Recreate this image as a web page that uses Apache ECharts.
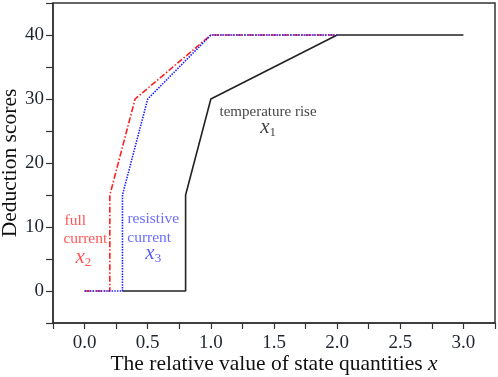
<!DOCTYPE html>
<html><head><meta charset="utf-8">
<script src="https://cdn.jsdelivr.net/npm/echarts@6/dist/echarts.min.js"></script>
<style>html,body{margin:0;padding:0;background:#fff}#c{width:498px;height:377px}</style>
</head><body><div id="c"></div>
<script>
// Data
var tempRise = [[0.3,0],[0.8,0],[0.8,15],[1.0,30],[2.0,40],[3.0,40]];      // x1 temperature rise
var fullCurrent = [[0,0],[0.2,0],[0.2,15],[0.4,30],[1.0,40],[2.0,40]];     // x2 full current
var resistiveCurrent = [[0,0],[0.3,0],[0.3,15],[0.5,30],[1.0,40],[2.0,40]];// x3 resistive current
var xTickLabels = ['0.0','0.5','1.0','1.5','2.0','2.5','3.0'];
var yTickLabels = ['0','10','20','30','40'];

var FONT = 'Liberation Serif';
var chart = echarts.init(document.getElementById('c'));
function fmtX(v){ var s=(Math.round(v*100)/100).toFixed(1); return xTickLabels.indexOf(s)>=0 && Math.abs(v*2-Math.round(v*2))<1e-6 ? s : ''; }
function fmtY(v){ var s=String(Math.round(v)); return yTickLabels.indexOf(s)>=0 && Math.round(v)%10===0 ? s : ''; }

var subRich = {
  it:{fontFamily:FONT,fontStyle:'italic',fontSize:21},
  sub:{fontFamily:FONT,fontSize:13,padding:[10,0,0,0]}
};
chart.setOption({
  animation:false,
  grid:{left:53,right:3,top:3,bottom:54,show:true,borderColor:'#333',borderWidth:1.5,outerBoundsMode:'none',containLabel:false},
  xAxis:{type:'value',min:-0.25,max:3.25,interval:0.25,
    axisLine:{show:true,onZero:false,lineStyle:{color:'#333',width:1.5}},
    axisTick:{show:true,inside:false,length:6,lineStyle:{color:'#333',width:1.2}},
    splitLine:{show:false},
    axisLabel:{formatter:fmtX,fontFamily:FONT,fontSize:19,color:'#1f2530',margin:11,showMinLabel:true,showMaxLabel:true},
    name:'The relative value of state quantities {it|x}',nameLocation:'middle',nameGap:30,nameMoveOverlap:false,
    nameTextStyle:{fontFamily:FONT,fontSize:21.5,color:'#111',rich:{it:{fontFamily:FONT,fontStyle:'italic',fontSize:21.5,color:'#111'}}}
  },
  yAxis:{type:'value',min:-5,max:45,interval:5,
    axisLine:{show:true,onZero:false,lineStyle:{color:'#333',width:1.5}},
    axisTick:{show:true,inside:false,length:7,lineStyle:{color:'#333',width:1.2}},
    splitLine:{show:false},
    axisLabel:{formatter:fmtY,fontFamily:FONT,fontSize:19,color:'#1f2530',margin:9},
    name:'Deduction scores',nameLocation:'middle',nameGap:32,nameMoveOverlap:false,
    nameTextStyle:{fontFamily:FONT,fontSize:21.5,color:'#111'}
  },
  series:[
    {name:'temperature rise',type:'line',data:tempRise,symbol:'none',z:2,
     lineStyle:{color:'#222',width:1.6}},
    {name:'full current',type:'line',data:fullCurrent,symbol:'none',z:3,
     lineStyle:{color:'#ff2020',width:1.6,type:[6,2,1.5,2]}},
    {name:'resistive current',type:'line',data:resistiveCurrent,symbol:'none',z:4,
     lineStyle:{color:'#2020ff',width:1.6,type:[1.5,1.2]}},
    {type:'scatter',symbolSize:0,silent:true,z:5,
     data:[
      {value:[1.453,27.9],label:{show:true,position:'inside',formatter:'temperature rise',fontFamily:FONT,fontSize:15,color:'#111'}},
      {value:[1.453,25.6],label:{show:true,position:'inside',formatter:'{it|x}{sub|1}',color:'#111',rich:subRich}},
      {value:[-0.074,11.0],label:{show:true,position:'inside',formatter:'full',fontFamily:FONT,fontSize:15.5,color:'#ff2a2a'}},
      {value:[0.006,8.2],label:{show:true,position:'inside',formatter:'current',fontFamily:FONT,fontSize:15.5,color:'#ff2a2a'}},
      {value:[-0.01,5.3],label:{show:true,position:'inside',formatter:'{it|x}{sub|2}',color:'#ff2a2a',rich:subRich}},
      {value:[0.544,11.3],label:{show:true,position:'inside',formatter:'resistive',fontFamily:FONT,fontSize:15.5,color:'#4646ff'}},
      {value:[0.512,8.3],label:{show:true,position:'inside',formatter:'current',fontFamily:FONT,fontSize:15.5,color:'#4646ff'}},
      {value:[0.544,5.8],label:{show:true,position:'inside',formatter:'{it|x}{sub|3}',color:'#3232ff',rich:subRich}}
     ]}
  ]
});
</script></body></html>
